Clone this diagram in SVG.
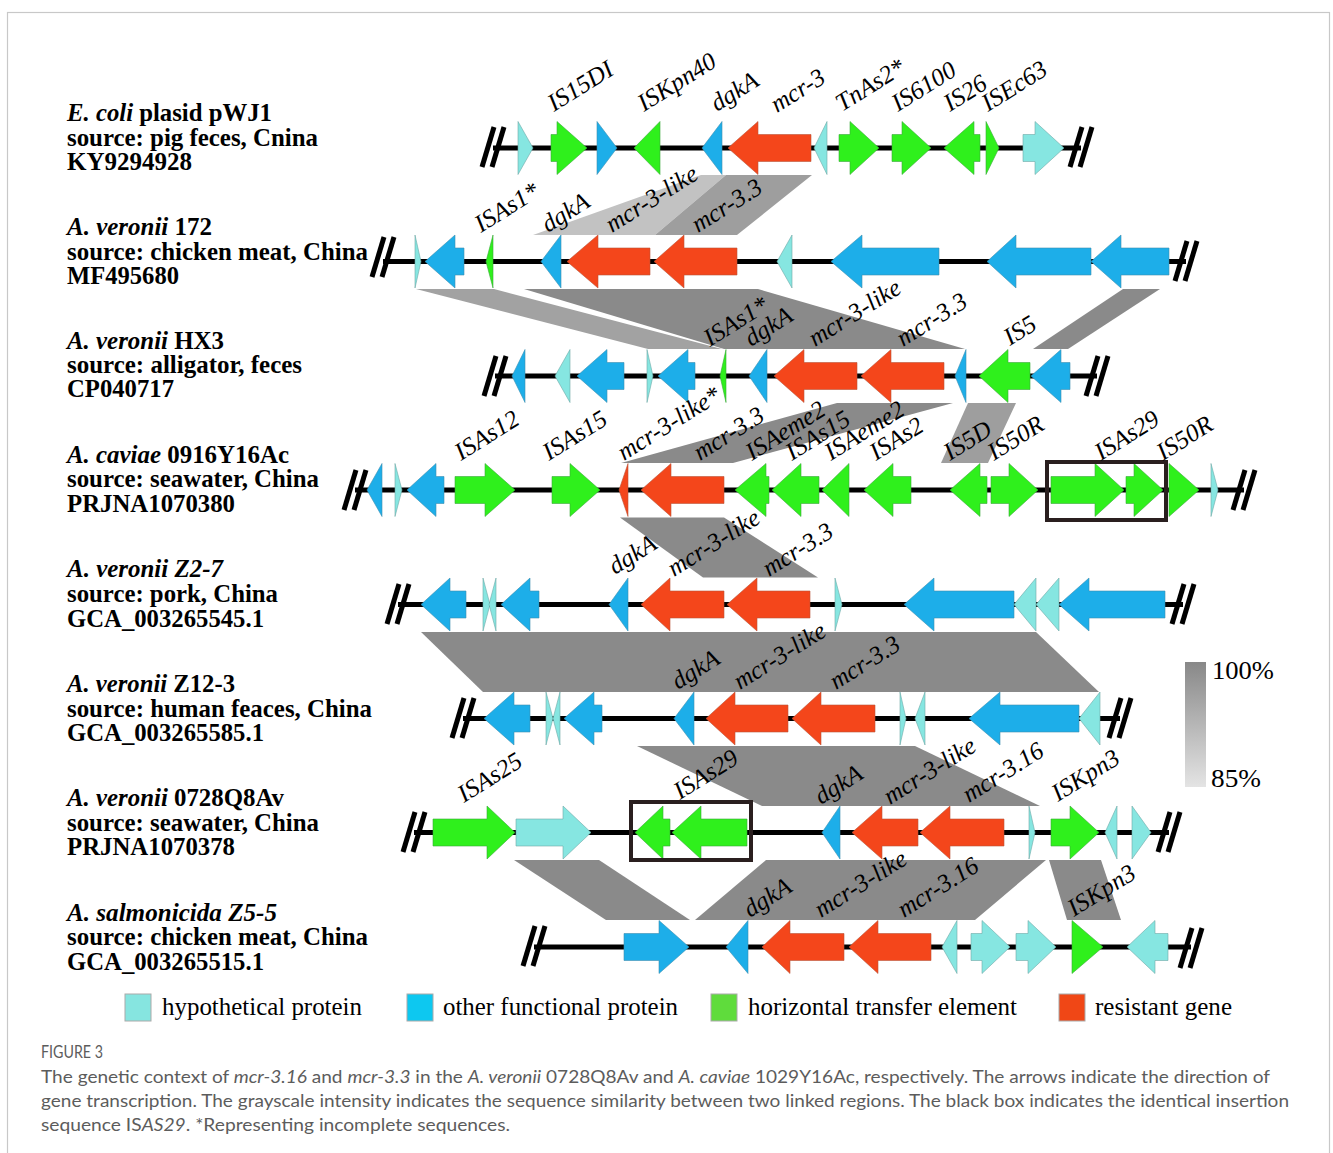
<svg xmlns="http://www.w3.org/2000/svg" width="1333" height="1153" viewBox="0 0 1333 1153">
<style>
  .hp{fill:#86e6e1;stroke:#6fa8a6;stroke-width:0.6}
  .of{fill:#1daee9;stroke:#3c8fb0;stroke-width:0.6}
  .ht{fill:#2ff01c;stroke:#3aa83a;stroke-width:0.6}
  .rg{fill:#f4461b;stroke:#b8553a;stroke-width:0.6}
  .bb{stroke:#000;stroke-width:5;fill:none}
  .box{fill:none;stroke:#2a1f1f;stroke-width:4}
  .lab{font-family:"Liberation Serif","Times New Roman",serif;font-weight:bold;font-size:26px;fill:#000}
  .gl{font-family:"Liberation Serif","Times New Roman",serif;font-style:italic;font-size:25px;fill:#000}
  .leg{font-family:"Liberation Serif","Times New Roman",serif;font-size:26px;fill:#000}
  .cap{font-family:Lato,"Open Sans",sans-serif;font-size:17px;fill:#5c5c5c}
  .b100{fill:#8a8a8a}
</style>
<defs>
  <g id="brk">
    <line x1="-11" y1="20" x2="1" y2="-20" stroke="#000" stroke-width="5"/>
    <line x1="-1" y1="20" x2="11" y2="-20" stroke="#000" stroke-width="5"/>
  </g>
  <linearGradient id="idgrad" x1="0" y1="0" x2="0" y2="1">
    <stop offset="0" stop-color="#888"/>
    <stop offset="1" stop-color="#e4e4e4"/>
  </linearGradient>
</defs>
<rect width="1333" height="1153" fill="#fff"/>
<rect x="7.5" y="12.5" width="1322" height="1160" fill="none" stroke="#c8c8c8" stroke-width="1.2"/>

<!-- similarity bands between neighbouring sequences -->
<g id="links">
  <polygon points="701,175 726,175 655,235 533,235" fill="#c2c2c2"/>
  <polygon points="726,175 812,175 737,235 655,235" fill="#9e9e9e"/>
  <polygon points="416,289 494,289 722,349 648,349" fill="#a2a2a2"/>
  <polygon class="b100" points="524,289 758,289 965,349 724,349"/>
  <polygon class="b100" points="1123,289 1160,289 1068,349 1033,349"/>
  <polygon class="b100" points="837,403 953,403 733,463 621,463"/>
  <polygon points="968,403 1016,403 988,463 941,463" fill="#9e9e9e"/>
  <polygon class="b100" points="620,517.5 724,517.5 818,577.5 703,577.5"/>
  <polygon class="b100" points="421,632 1036,632 1099,692 483,692"/>
  <polygon class="b100" points="637,746 915,746 1040,806 762,806"/>
  <polygon class="b100" points="514,860 599,860 690,920 606,920"/>
  <polygon class="b100" points="766,860 1046,860 975,920 695,920"/>
  <polygon class="b100" points="1049,860 1101,860 1121,920 1067,920"/>
</g>

<!-- sequence 1: E. coli pWJ1 -->
<g id="seq1">
  <text class="lab" x="67" y="121" textLength="205" lengthAdjust="spacingAndGlyphs"><tspan font-style="italic">E. coli</tspan> plasid pWJ1</text>
  <text class="lab" x="67" y="145.5" textLength="251" lengthAdjust="spacingAndGlyphs">source: pig feces, Cnina</text>
  <text class="lab" x="67" y="170" textLength="125" lengthAdjust="spacingAndGlyphs">KY9294928</text>
  <line class="bb" x1="493" y1="148" x2="1081" y2="148"/>
  <use href="#brk" x="493" y="147"/>
  <use href="#brk" x="1081" y="147"/>
  <polygon class="hp" points="518,121.5 533,148 518,174.5"/>
  <polygon class="ht" points="551,134.5 557,134.5 557,121.5 587,148 557,174.5 557,161.5 551,161.5"/>
  <polygon class="of" points="597,121.5 617,148 597,174.5"/>
  <polygon class="ht" points="634,148 660,121.5 660,174.5"/>
  <polygon class="of" points="702,148 722,121.5 722,174.5"/>
  <polygon class="rg" points="728,148 758,121.5 758,134.5 811,134.5 811,161.5 758,161.5 758,174.5"/>
  <polygon class="hp" points="814,148 827,121.5 827,174.5"/>
  <polygon class="ht" points="839,134.5 850,134.5 850,121.5 879,148 850,174.5 850,161.5 839,161.5"/>
  <polygon class="ht" points="892,134.5 902,134.5 902,121.5 931,148 902,174.5 902,161.5 892,161.5"/>
  <polygon class="ht" points="944,148 974,121.5 974,134.5 980,134.5 980,161.5 974,161.5 974,174.5"/>
  <polygon class="ht" points="986,121.5 999,148 986,174.5"/>
  <polygon class="hp" points="1023,134.5 1035,134.5 1035,121.5 1064,148 1035,174.5 1035,161.5 1023,161.5"/>
  <text class="gl" x="554" y="112" transform="rotate(-32 554 112)">IS15DI</text>
  <text class="gl" x="644" y="112" transform="rotate(-32 644 112)">ISKpn40</text>
  <text class="gl" x="717" y="112" transform="rotate(-32 717 112)">dgkA</text>
  <text class="gl" x="777" y="113" transform="rotate(-32 777 113)">mcr-3</text>
  <text class="gl" x="842" y="112" transform="rotate(-32 842 112)">TnAs2*</text>
  <text class="gl" x="898" y="112" transform="rotate(-32 898 112)">IS6100</text>
  <text class="gl" x="950" y="112" transform="rotate(-32 950 112)">IS26</text>
  <text class="gl" x="988" y="112" transform="rotate(-32 988 112)">ISEc63</text>
</g>

<!-- sequence 2: A. veronii 172 -->
<g id="seq2">
  <text class="lab" x="67" y="235" textLength="145" lengthAdjust="spacingAndGlyphs"><tspan font-style="italic">A. veronii</tspan> 172</text>
  <text class="lab" x="67" y="259.5" textLength="301" lengthAdjust="spacingAndGlyphs">source: chicken meat, China</text>
  <text class="lab" x="67" y="284" textLength="112" lengthAdjust="spacingAndGlyphs">MF495680</text>
  <line class="bb" x1="383" y1="261.5" x2="1186" y2="261.5"/>
  <use href="#brk" x="383" y="257"/>
  <use href="#brk" x="1186" y="261"/>
  <polygon class="hp" points="415,235 421,261.5 415,288"/>
  <polygon class="of" points="425,261.5 455,235 455,248 464,248 464,275 455,275 455,288"/>
  <polygon class="ht" points="486,261.5 493,235 493,288"/>
  <polygon class="of" points="541,261.5 561,235 561,288"/>
  <polygon class="rg" points="567,261.5 598,235 598,248 650,248 650,275 598,275 598,288"/>
  <polygon class="rg" points="654,261.5 684,235 684,248 737,248 737,275 684,275 684,288"/>
  <polygon class="hp" points="777,261.5 792,235 792,288"/>
  <polygon class="of" points="831,261.5 862,235 862,248 939,248 939,275 862,275 862,288"/>
  <polygon class="of" points="987,261.5 1016,235 1016,248 1091,248 1091,275 1016,275 1016,288"/>
  <polygon class="of" points="1091,261.5 1121,235 1121,248 1169,248 1169,275 1121,275 1121,288"/>
  <text class="gl" x="481" y="233" transform="rotate(-32 481 233)">ISAs1*</text>
  <text class="gl" x="548" y="233" transform="rotate(-32 548 233)">dgkA</text>
  <text class="gl" x="612" y="233" transform="rotate(-32 612 233)">mcr-3-like</text>
  <text class="gl" x="698" y="233" transform="rotate(-32 698 233)">mcr-3.3</text>
</g>

<!-- sequence 3: A. veronii HX3 -->
<g id="seq3">
  <text class="lab" x="67" y="348.5" textLength="157" lengthAdjust="spacingAndGlyphs"><tspan font-style="italic">A. veronii</tspan> HX3</text>
  <text class="lab" x="67" y="373" textLength="235" lengthAdjust="spacingAndGlyphs">source: alligator, feces</text>
  <text class="lab" x="67" y="397" textLength="107" lengthAdjust="spacingAndGlyphs">CP040717</text>
  <line class="bb" x1="495" y1="376" x2="1097" y2="376"/>
  <use href="#brk" x="495" y="376"/>
  <use href="#brk" x="1097" y="376"/>
  <polygon class="of" points="512,376 525,349.5 525,402.5"/>
  <polygon class="hp" points="555,376 570,349.5 570,402.5"/>
  <polygon class="of" points="577,376 607,349.5 607,362.5 624,362.5 624,389.5 607,389.5 607,402.5"/>
  <polygon class="hp" points="647,349.5 653,376 647,402.5"/>
  <polygon class="of" points="658,376 688,349.5 688,362.5 695,362.5 695,389.5 688,389.5 688,402.5"/>
  <polygon class="ht" points="720,376 726,349.5 726,402.5"/>
  <polygon class="of" points="749,376 767,349.5 767,402.5"/>
  <polygon class="rg" points="774,376 804,349.5 804,362.5 857,362.5 857,389.5 804,389.5 804,402.5"/>
  <polygon class="rg" points="861,376 891,349.5 891,362.5 944,362.5 944,389.5 891,389.5 891,402.5"/>
  <polygon class="of" points="955,376 966,349.5 966,402.5"/>
  <polygon class="ht" points="979,376 1008,349.5 1008,362.5 1030,362.5 1030,389.5 1008,389.5 1008,402.5"/>
  <polygon class="of" points="1031,376 1061,349.5 1061,362.5 1070,362.5 1070,389.5 1061,389.5 1061,402.5"/>
  <text class="gl" x="710" y="347" transform="rotate(-32 710 347)">ISAs1*</text>
  <text class="gl" x="751" y="347" transform="rotate(-32 751 347)">dgkA</text>
  <text class="gl" x="815" y="347" transform="rotate(-32 815 347)">mcr-3-like</text>
  <text class="gl" x="903" y="347" transform="rotate(-32 903 347)">mcr-3.3</text>
  <text class="gl" x="1010" y="346" transform="rotate(-32 1010 346)">IS5</text>
</g>

<!-- sequence 4: A. caviae 0916Y16Ac -->
<g id="seq4">
  <text class="lab" x="67" y="462.5" textLength="222" lengthAdjust="spacingAndGlyphs"><tspan font-style="italic">A. caviae</tspan> 0916Y16Ac</text>
  <text class="lab" x="67" y="487" textLength="252" lengthAdjust="spacingAndGlyphs">source: seawater, China</text>
  <text class="lab" x="67" y="511.5" textLength="168" lengthAdjust="spacingAndGlyphs">PRJNA1070380</text>
  <line class="bb" x1="355" y1="490" x2="1244" y2="490"/>
  <use href="#brk" x="355" y="490"/>
  <use href="#brk" x="1244" y="490"/>
  <polygon class="of" points="367,490 382,463.5 382,516.5"/>
  <polygon class="hp" points="395,463.5 402,490 395,516.5"/>
  <polygon class="of" points="407,490 436,463.5 436,476.5 444,476.5 444,503.5 436,503.5 436,516.5"/>
  <polygon class="ht" points="455,476.5 485,476.5 485,463.5 515,490 485,516.5 485,503.5 455,503.5"/>
  <polygon class="ht" points="552,476.5 570,476.5 570,463.5 600,490 570,516.5 570,503.5 552,503.5"/>
  <polygon class="rg" points="619,490 628,463.5 628,516.5"/>
  <polygon class="rg" points="641,490 671,463.5 671,476.5 724,476.5 724,503.5 671,503.5 671,516.5"/>
  <polygon class="ht" points="735,490 766,463.5 766,476.5 769,476.5 769,503.5 766,503.5 766,516.5"/>
  <polygon class="ht" points="772,490 801,463.5 801,476.5 819,476.5 819,503.5 801,503.5 801,516.5"/>
  <polygon class="ht" points="822,490 849,463.5 849,516.5"/>
  <polygon class="ht" points="864,490 893,463.5 893,476.5 911,476.5 911,503.5 893,503.5 893,516.5"/>
  <polygon class="ht" points="950,490 980,463.5 980,476.5 987,476.5 987,503.5 980,503.5 980,516.5"/>
  <polygon class="ht" points="991,476.5 1009,476.5 1009,463.5 1038,490 1009,516.5 1009,503.5 991,503.5"/>
  <polygon class="ht" points="1051,476.5 1095,476.5 1095,463.5 1124,490 1095,516.5 1095,503.5 1051,503.5"/>
  <polygon class="ht" points="1126,476.5 1134,476.5 1134,463.5 1163,490 1134,516.5 1134,503.5 1126,503.5"/>
  <polygon class="ht" points="1169,463.5 1199,490 1169,516.5"/>
  <polygon class="hp" points="1211,463.5 1218,490 1211,516.5"/>
  <rect class="box" x="1047" y="462" width="119" height="58"/>
  <text class="gl" x="461" y="461" transform="rotate(-32 461 461)">ISAs12</text>
  <text class="gl" x="549" y="461" transform="rotate(-32 549 461)">ISAs15</text>
  <text class="gl" x="624" y="461" transform="rotate(-32 624 461)">mcr-3-like*</text>
  <text class="gl" x="700" y="461" transform="rotate(-32 700 461)">mcr-3.3</text>
  <text class="gl" x="752" y="461" transform="rotate(-32 752 461)">ISAeme2</text>
  <text class="gl" x="792" y="461" transform="rotate(-32 792 461)">ISAs15</text>
  <text class="gl" x="831" y="461" transform="rotate(-32 831 461)">ISAeme2</text>
  <text class="gl" x="876" y="461" transform="rotate(-32 876 461)">ISAs2</text>
  <text class="gl" x="950" y="461" transform="rotate(-32 950 461)">IS5D</text>
  <text class="gl" x="994" y="461" transform="rotate(-32 994 461)">IS50R</text>
  <text class="gl" x="1101" y="461" transform="rotate(-32 1101 461)">ISAs29</text>
  <text class="gl" x="1163" y="461" transform="rotate(-32 1163 461)">IS50R</text>
</g>

<!-- sequence 5: A. veronii Z2-7 -->
<g id="seq5">
  <text class="lab" x="67" y="577" textLength="156" lengthAdjust="spacingAndGlyphs"><tspan font-style="italic">A. veronii Z2-7</tspan></text>
  <text class="lab" x="67" y="602" textLength="211" lengthAdjust="spacingAndGlyphs">source: pork, China</text>
  <text class="lab" x="67" y="627" textLength="197" lengthAdjust="spacingAndGlyphs">GCA_003265545.1</text>
  <line class="bb" x1="398" y1="604.5" x2="1183" y2="604.5"/>
  <use href="#brk" x="398" y="604"/>
  <use href="#brk" x="1183" y="604"/>
  <polygon class="of" points="421,604.5 450,578 450,591 466,591 466,618 450,618 450,631"/>
  <polygon class="hp" points="483,578 490,604.5 483,631"/>
  <polygon class="hp" points="489,604.5 496,578 496,631"/>
  <polygon class="of" points="501,604.5 530,578 530,591 539,591 539,618 530,618 530,631"/>
  <polygon class="of" points="609,604.5 628,578 628,631"/>
  <polygon class="rg" points="641,604.5 670,578 670,591 724,591 724,618 670,618 670,631"/>
  <polygon class="rg" points="727,604.5 757,578 757,591 810,591 810,618 757,618 757,631"/>
  <polygon class="hp" points="835,578 842,604.5 835,631"/>
  <polygon class="of" points="904,604.5 934,578 934,591 1014,591 1014,618 934,618 934,631"/>
  <polygon class="hp" points="1014,604.5 1036,578 1036,631"/>
  <polygon class="hp" points="1036,604.5 1059,578 1059,631"/>
  <polygon class="of" points="1059,604.5 1089,578 1089,591 1165,591 1165,618 1089,618 1089,631"/>
  <text class="gl" x="615" y="575" transform="rotate(-32 615 575)">dgkA</text>
  <text class="gl" x="674" y="577" transform="rotate(-32 674 577)">mcr-3-like</text>
  <text class="gl" x="769" y="577" transform="rotate(-32 769 577)">mcr-3.3</text>
</g>

<!-- sequence 6: A. veronii Z12-3 -->
<g id="seq6">
  <text class="lab" x="67" y="692" textLength="168" lengthAdjust="spacingAndGlyphs"><tspan font-style="italic">A. veronii</tspan> Z12-3</text>
  <text class="lab" x="67" y="716.5" textLength="305" lengthAdjust="spacingAndGlyphs">source: human feaces, China</text>
  <text class="lab" x="67" y="741" textLength="197" lengthAdjust="spacingAndGlyphs">GCA_003265585.1</text>
  <line class="bb" x1="463" y1="718.5" x2="1120" y2="718.5"/>
  <use href="#brk" x="463" y="718"/>
  <use href="#brk" x="1120" y="718"/>
  <polygon class="of" points="484,718.5 514,692 514,705 530,705 530,732 514,732 514,745"/>
  <polygon class="hp" points="546,692 553,718.5 546,745"/>
  <polygon class="hp" points="553,718.5 560,692 560,745"/>
  <polygon class="of" points="564,718.5 594,692 594,705 602,705 602,732 594,732 594,745"/>
  <polygon class="of" points="674,718.5 694,692 694,745"/>
  <polygon class="rg" points="706,718.5 735,692 735,705 788,705 788,732 735,732 735,745"/>
  <polygon class="rg" points="792,718.5 821,692 821,705 875,705 875,732 821,732 821,745"/>
  <polygon class="hp" points="900,692 906,718.5 900,745"/>
  <polygon class="hp" points="915,718.5 925,692 925,745"/>
  <polygon class="of" points="969,718.5 1000,692 1000,705 1079,705 1079,732 1000,732 1000,745"/>
  <polygon class="hp" points="1079,718.5 1100,692 1100,745"/>
  <text class="gl" x="678" y="690" transform="rotate(-32 678 690)">dgkA</text>
  <text class="gl" x="740" y="690" transform="rotate(-32 740 690)">mcr-3-like</text>
  <text class="gl" x="836" y="690" transform="rotate(-32 836 690)">mcr-3.3</text>
</g>

<!-- sequence 7: A. veronii 0728Q8Av -->
<g id="seq7">
  <text class="lab" x="67" y="806" textLength="217" lengthAdjust="spacingAndGlyphs"><tspan font-style="italic">A. veronii</tspan> 0728Q8Av</text>
  <text class="lab" x="67" y="830.5" textLength="252" lengthAdjust="spacingAndGlyphs">source: seawater, China</text>
  <text class="lab" x="67" y="855" textLength="168" lengthAdjust="spacingAndGlyphs">PRJNA1070378</text>
  <line class="bb" x1="414" y1="832.5" x2="1169" y2="832.5"/>
  <use href="#brk" x="414" y="832"/>
  <use href="#brk" x="1169" y="832"/>
  <polygon class="ht" points="433,819 487,819 487,806 515,832.5 487,859 487,846 433,846"/>
  <polygon class="hp" points="516,819 563,819 563,806 591,832.5 563,859 563,846 516,846"/>
  <polygon class="ht" points="635,832.5 663,806 663,819 670,819 670,846 663,846 663,859"/>
  <polygon class="ht" points="672,832.5 701,806 701,819 747,819 747,846 701,846 701,859"/>
  <polygon class="of" points="822,832.5 840,806 840,859"/>
  <polygon class="rg" points="852,832.5 882,806 882,819 918,819 918,846 882,846 882,859"/>
  <polygon class="rg" points="920,832.5 950,806 950,819 1004,819 1004,846 950,846 950,859"/>
  <polygon class="hp" points="1029,806 1035,832.5 1029,859"/>
  <polygon class="ht" points="1051,819 1070,819 1070,806 1099,832.5 1070,859 1070,846 1051,846"/>
  <polygon class="hp" points="1105,832.5 1117,806 1117,859"/>
  <polygon class="hp" points="1132,806 1151,832.5 1132,859"/>
  <rect class="box" x="631" y="802" width="120" height="58"/>
  <text class="gl" x="464" y="803" transform="rotate(-32 464 803)">ISAs25</text>
  <text class="gl" x="680" y="800" transform="rotate(-32 680 800)">ISAs29</text>
  <text class="gl" x="821" y="805" transform="rotate(-32 821 805)">dgkA</text>
  <text class="gl" x="890" y="805" transform="rotate(-32 890 805)">mcr-3-like</text>
  <text class="gl" x="969" y="803" transform="rotate(-32 969 803)">mcr-3.16</text>
  <text class="gl" x="1058" y="802" transform="rotate(-32 1058 802)">ISKpn3</text>
</g>

<!-- sequence 8: A. salmonicida Z5-5 -->
<g id="seq8">
  <text class="lab" x="67" y="920.5" textLength="210" lengthAdjust="spacingAndGlyphs"><tspan font-style="italic">A. salmonicida Z5-5</tspan></text>
  <text class="lab" x="67" y="945" textLength="301" lengthAdjust="spacingAndGlyphs">source: chicken meat, China</text>
  <text class="lab" x="67" y="969.5" textLength="197" lengthAdjust="spacingAndGlyphs">GCA_003265515.1</text>
  <line class="bb" x1="534" y1="947" x2="1191" y2="947"/>
  <use href="#brk" x="534" y="946"/>
  <use href="#brk" x="1191" y="948"/>
  <polygon class="of" points="624,933.5 659,933.5 659,920.5 689,947 659,973.5 659,960.5 624,960.5"/>
  <polygon class="of" points="726,947 748,920.5 748,973.5"/>
  <polygon class="rg" points="762,947 790,920.5 790,933.5 844,933.5 844,960.5 790,960.5 790,973.5"/>
  <polygon class="rg" points="849,947 878,920.5 878,933.5 931,933.5 931,960.5 878,960.5 878,973.5"/>
  <polygon class="hp" points="942,947 957,920.5 957,973.5"/>
  <polygon class="hp" points="971,933.5 982,933.5 982,920.5 1010,947 982,973.5 982,960.5 971,960.5"/>
  <polygon class="hp" points="1016,933.5 1028,933.5 1028,920.5 1056,947 1028,973.5 1028,960.5 1016,960.5"/>
  <polygon class="ht" points="1072,920.5 1103,947 1072,973.5"/>
  <polygon class="hp" points="1127,947 1155,920.5 1155,933.5 1168,933.5 1168,960.5 1155,960.5 1155,973.5"/>
  <text class="gl" x="750" y="918" transform="rotate(-32 750 918)">dgkA</text>
  <text class="gl" x="821" y="918" transform="rotate(-32 821 918)">mcr-3-like</text>
  <text class="gl" x="904" y="918" transform="rotate(-32 904 918)">mcr-3.16</text>
  <text class="gl" x="1074" y="917" transform="rotate(-32 1074 917)">ISKpn3</text>
</g>

<!-- identity scale -->
<g id="scale">
  <rect x="1185" y="662" width="21" height="125" fill="url(#idgrad)"/>
  <text class="leg" x="1212" y="679" textLength="62" lengthAdjust="spacingAndGlyphs">100%</text>
  <text class="leg" x="1211" y="787" textLength="50" lengthAdjust="spacingAndGlyphs">85%</text>
</g>

<!-- legend -->
<g id="legend">
  <rect x="125" y="994" width="26" height="27" fill="#86e5e0" stroke="#aaa" stroke-width="1"/>
  <text class="leg" x="162" y="1015" textLength="200" lengthAdjust="spacingAndGlyphs">hypothetical protein</text>
  <rect x="407" y="994" width="26" height="27" fill="#0dc8f0" stroke="#aaa" stroke-width="1"/>
  <text class="leg" x="443" y="1015" textLength="235" lengthAdjust="spacingAndGlyphs">other functional protein</text>
  <rect x="711" y="994" width="26" height="27" fill="#5fdc3c" stroke="#aaa" stroke-width="1"/>
  <text class="leg" x="748" y="1015" textLength="269" lengthAdjust="spacingAndGlyphs">horizontal transfer element</text>
  <rect x="1059" y="994" width="26" height="27" fill="#f04716" stroke="#aaa" stroke-width="1"/>
  <text class="leg" x="1095" y="1015" textLength="137" lengthAdjust="spacingAndGlyphs">resistant gene</text>
</g>

<!-- caption -->
<g id="caption">
  <text class="cap" x="41" y="1058" font-size="13" textLength="62" lengthAdjust="spacingAndGlyphs">FIGURE 3</text>
  <text class="cap" x="41" y="1083" textLength="1229" lengthAdjust="spacingAndGlyphs">The genetic context of <tspan font-style="italic">mcr-3.16</tspan> and <tspan font-style="italic">mcr-3.3</tspan> in the <tspan font-style="italic">A. veronii</tspan> 0728Q8Av and <tspan font-style="italic">A. caviae</tspan> 1029Y16Ac, respectively. The arrows indicate the direction of</text>
  <text class="cap" x="41" y="1107" textLength="1248" lengthAdjust="spacingAndGlyphs">gene transcription. The grayscale intensity indicates the sequence similarity between two linked regions. The black box indicates the identical insertion</text>
  <text class="cap" x="41" y="1131" textLength="469" lengthAdjust="spacingAndGlyphs">sequence IS<tspan font-style="italic">AS29</tspan>. *Representing incomplete sequences.</text>
</g>
</svg>
